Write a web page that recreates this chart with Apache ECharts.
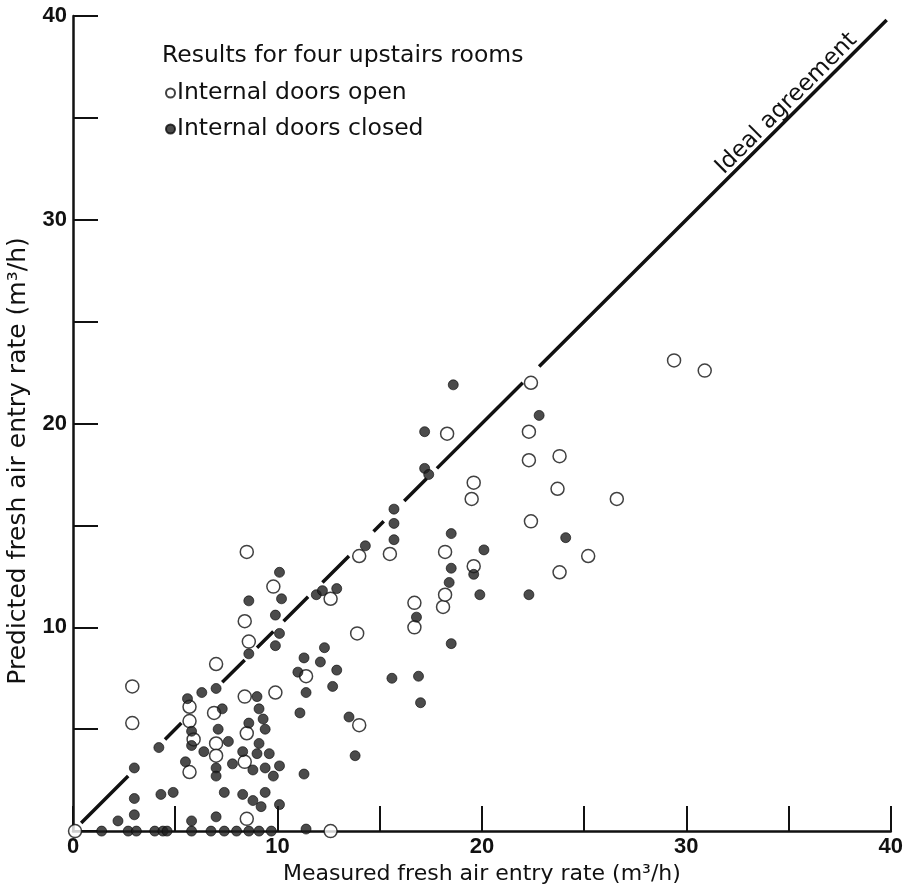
<!DOCTYPE html>
<html>
<head>
<meta charset="utf-8">
<script src="https://cdn.jsdelivr.net/npm/echarts@6/dist/echarts.min.js"></script>
<style>
  html, body { margin: 0; padding: 0; background: #fff; }
  #chart { width: 906px; height: 890px; }
</style>
</head>
<body>
<div id="chart"></div>
<script>
// measured (x) vs predicted (y), m3/h
const doorsOpen = [
  [0.1, 0.0], [2.9, 7.1], [2.9, 5.3], [5.7, 6.1], [5.7, 5.4], [5.9, 4.5], [5.7, 2.9],
  [6.9, 5.8], [7.0, 4.3], [7.0, 3.7], [7.0, 8.2], [8.4, 6.6], [8.5, 4.8], [8.4, 3.4],
  [8.5, 0.6], [9.9, 6.8], [8.5, 13.7], [9.8, 12.0], [8.4, 10.3], [8.6, 9.3], [11.4, 7.6],
  [12.6, 11.4], [14.0, 13.5], [13.9, 9.7], [14.0, 5.2], [12.6, 0.0], [15.5, 13.6],
  [16.7, 11.2], [16.7, 10.0], [18.1, 11.0], [18.2, 11.6], [18.2, 13.7], [18.3, 19.5],
  [19.6, 17.1], [19.5, 16.3], [19.6, 13.0], [22.4, 22.0], [22.3, 19.6], [22.3, 18.2],
  [22.4, 15.2], [23.8, 18.4], [23.7, 16.8], [23.8, 12.7], [25.2, 13.5], [26.6, 16.3],
  [29.4, 23.1], [30.9, 22.6]
];
const doorsClosed = [
  [1.4, 0], [2.7, 0], [3.1, 0], [4.0, 0], [4.4, 0], [4.6, 0], [5.8, 0], [6.75, 0],
  [7.4, 0], [8.0, 0], [8.6, 0], [9.1, 0], [9.7, 0], [11.4, 0.1],
  [2.2, 0.5], [3.0, 0.8], [3.0, 1.6], [3.0, 3.1], [4.3, 1.8], [4.9, 1.9], [4.2, 4.1],
  [5.6, 6.5], [5.8, 4.9], [5.8, 4.2], [6.4, 3.9], [5.5, 3.4], [6.3, 6.8], [7.0, 7.0],
  [7.1, 5.0], [7.0, 3.1], [7.0, 2.7], [5.8, 0.5], [7.0, 0.7], [9.0, 6.6], [11.4, 6.8],
  [11.1, 5.8], [7.3, 6.0], [9.1, 6.0], [9.3, 5.5], [8.6, 5.3], [9.4, 5.0], [7.6, 4.4],
  [9.1, 4.3], [8.3, 3.9], [9.0, 3.8], [9.6, 3.8], [7.8, 3.3], [8.8, 3.0], [9.4, 3.1],
  [10.1, 3.2], [9.8, 2.7], [11.3, 2.8], [7.4, 1.9], [8.3, 1.8], [8.8, 1.5], [9.4, 1.9],
  [9.2, 1.2], [10.1, 1.3], [10.1, 12.7], [8.6, 11.3], [10.2, 11.4], [9.9, 10.6],
  [10.1, 9.7], [9.9, 9.1], [8.6, 8.7], [14.3, 14.0], [11.9, 11.6], [12.2, 11.8],
  [12.9, 11.9], [12.3, 9.0], [11.3, 8.5], [12.1, 8.3], [12.9, 7.9], [11.0, 7.8],
  [12.7, 7.1], [13.5, 5.6], [13.8, 3.7], [18.6, 21.9], [22.8, 20.4], [17.2, 19.6],
  [17.2, 17.8], [17.4, 17.5], [15.7, 15.8], [15.7, 15.1], [18.5, 14.6], [15.7, 14.3],
  [20.1, 13.8], [18.5, 12.9], [19.6, 12.6], [18.4, 12.2], [19.9, 11.6], [22.3, 11.6],
  [16.8, 10.5], [18.5, 9.2], [15.6, 7.5], [16.9, 7.6], [17.0, 6.3], [24.1, 14.4]
];
// ideal agreement line y = x, drawn in pieces (gaps as in the original)
const idealSegments = [
  [0.4, 2.7], [4.5, 5.3], [7.3, 8.4], [9.0, 9.8], [10.3, 11.5], [12.2, 13.5],
  [14.7, 15.2], [16.2, 17.3], [17.8, 22.0], [22.8, 39.8]
];
const axisMin = 0, axisMax = 40, tickStep = 5, labelStep = 10;

const idealData = [];
idealSegments.forEach(function (s, i) {
  if (i > 0) idealData.push([null, null]);
  idealData.push([s[0], s[0]]);
  idealData.push([s[1], s[1]]);
});

const font = 'DejaVu Sans';
const numFont = 'Liberation Sans';

const chart = echarts.init(document.getElementById('chart'));

const axisCommon = {
  type: 'value',
  min: axisMin,
  max: axisMax,
  interval: tickStep,
  splitLine: { show: false },
  axisLine: { show: true, lineStyle: { color: '#111', width: 2.5 } },
  axisTick: { show: true, inside: true, length: 25, lineStyle: { color: '#111', width: 2 } },
};

chart.setOption({
  animation: false,
  backgroundColor: '#fff',
  grid: { left: 73, right: 15, top: 16, bottom: 57 },
  title: {
    text: 'Results for four upstairs rooms',
    left: 157,
    top: 39,
    textStyle: { fontFamily: font, fontSize: 23.5, fontWeight: 'normal', color: '#111' }
  },
  legend: {
    orient: 'vertical',
    left: 160,
    top: 76,
    itemGap: 12,
    itemWidth: 9,
    itemHeight: 9,
    icon: 'circle',
    textStyle: { fontFamily: font, fontSize: 23.5, color: '#111', padding: [0, 0, 0, -3] },
    data: ['Internal doors open', 'Internal doors closed']
  },
  xAxis: Object.assign({}, axisCommon, {
    name: 'Measured fresh air entry rate (m³/h)',
    nameLocation: 'middle',
    nameGap: 29,
    nameTextStyle: { fontFamily: font, fontSize: 22, color: '#111', verticalAlign: 'top' },
    axisLabel: {
      margin: 5,
      fontFamily: numFont,
      fontSize: 22,
      fontWeight: 'bold',
      color: '#111',
      formatter: function (v) { return v % labelStep === 0 ? String(v) : ''; }
    }
  }),
  yAxis: Object.assign({}, axisCommon, {
    axisLabel: {
      margin: 6,
      fontFamily: numFont,
      fontSize: 22,
      fontWeight: 'bold',
      color: '#111',
      formatter: function (v) { return v % labelStep === 0 && v !== 0 ? String(v) : ''; }
    }
  }),
  series: [
    {
      name: 'Ideal agreement',
      type: 'line',
      data: idealData,
      showSymbol: false,
      connectNulls: false,
      silent: true,
      lineStyle: { color: '#111', width: 3.5 },
      z: 1
    },
    {
      name: 'Internal doors open',
      type: 'scatter',
      data: doorsOpen,
      symbol: 'circle',
      symbolSize: 13,
      itemStyle: { color: '#fff', borderColor: '#111', borderWidth: 1.5 },
      z: 2
    },
    {
      name: 'Internal doors closed',
      type: 'scatter',
      data: doorsClosed,
      symbol: 'circle',
      symbolSize: 10,
      itemStyle: { color: '#1e1e1e', borderColor: '#0a0a0a', borderWidth: 0.8 },
      z: 3
    }
  ]
});

// text placed along the ideal line and the rotated y-axis name
const labelAt = chart.convertToPixel({ gridIndex: 0 }, [35.3, 35.3]);
chart.setOption({
  graphic: [
    {
      type: 'text',
      x: labelAt[0],
      y: labelAt[1],
      rotation: Math.PI / 4,
      style: {
        text: 'Ideal agreement',
        font: '23px "' + font + '"',
        fill: '#111',
        textAlign: 'center',
        textVerticalAlign: 'bottom'
      }
    },
    {
      type: 'text',
      x: 18,
      y: 461,
      rotation: Math.PI / 2,
      style: {
        text: 'Predicted fresh air entry rate (m³/h)',
        font: '25px "' + font + '"',
        fill: '#111',
        textAlign: 'center',
        textVerticalAlign: 'middle'
      }
    }
  ]
});
</script>
</body>
</html>
